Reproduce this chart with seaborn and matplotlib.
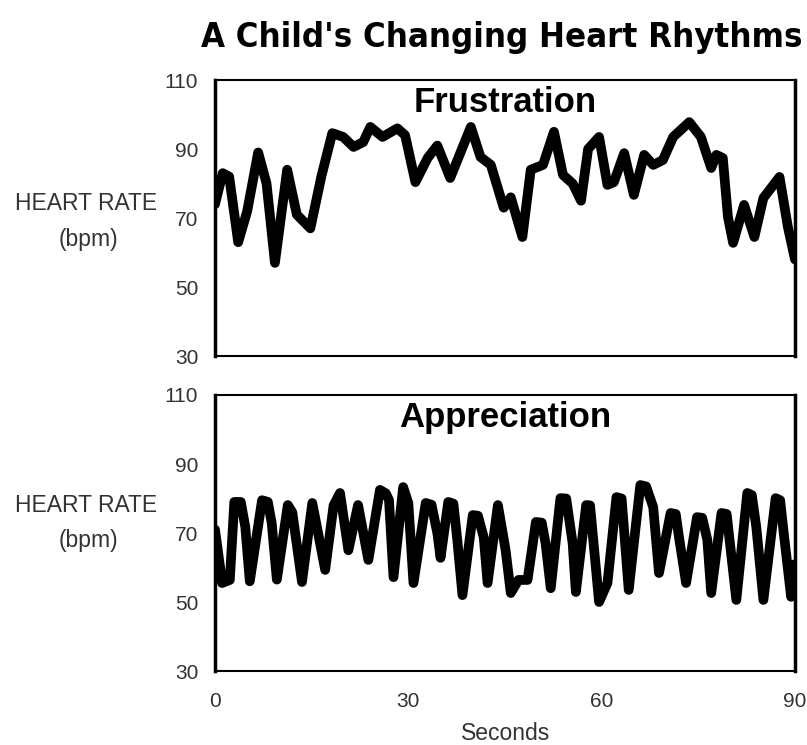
import matplotlib
matplotlib.use("Agg")
import matplotlib.pyplot as plt
from matplotlib import font_manager
import seaborn as sns
import pandas as pd

# Frustration trace (seconds, bpm)
frus_t = [0, 1.2, 2.2, 3.6, 5.0, 6.7, 8.0, 9.3, 11.2, 12.7, 14.8, 16.5, 18.2,
          19.9, 21.5, 23.0, 24.1, 26.0, 28.3, 29.5, 31.1, 33.0, 34.5, 36.5,
          39.7, 41.2, 42.8, 44.8, 45.9, 47.7, 49.0, 50.9, 52.6, 54.0, 55.5,
          56.8, 57.9, 59.6, 60.9, 61.9, 63.5, 65.0, 66.6, 68.0, 69.5, 71.1,
          73.6, 75.4, 77.0, 77.8, 78.8, 79.6, 80.4, 82.1, 83.7, 85.1, 87.6,
          88.9, 90.0]
frus_bpm = [74, 83, 82, 63, 72, 89, 80, 57, 84, 71, 67, 82, 94.6,
            93.5, 90.6, 92, 96.4, 93.5, 96, 94, 80.4, 87.4, 91, 81.6,
            96.4, 87.7, 85.4, 73, 76, 64.5, 84, 85.4, 95, 82.5, 80,
            75, 90, 93.5, 79.6, 80.4, 88.8, 76.7, 88.3, 85.4, 86.8, 93.5,
            97.8, 93.5, 84.5, 88.3, 87.4, 70.3, 62.8, 73.8, 64.5, 75.8, 81.9,
            67.4, 58]

# Appreciation trace (seconds, bpm)
appr_t = [0, 0.8, 1.1, 2.3, 3.0, 4.0, 4.7, 5.4, 7.3, 8.2, 8.8, 9.6, 11.3,
          12.0, 13.5, 15.1, 17.1, 18.4, 19.4, 20.7, 22.2, 23.8, 25.6, 26.5,
          27.0, 27.7, 29.2, 30.0, 30.8, 32.7, 33.6, 34.5, 35.0, 36.2, 37.0,
          37.6, 38.4, 40.0, 40.8, 41.7, 42.3, 43.9, 45.1, 45.9, 47.1, 48.5,
          49.8, 50.7, 51.3, 52.1, 53.6, 54.5, 55.5, 56.0, 57.6, 58.2, 58.8,
          59.6, 60.9, 62.3, 63.1, 64.2, 66.0, 66.9, 68.0, 68.9, 70.7, 71.5,
          72.0, 73.1, 74.8, 75.6, 76.4, 77.0, 78.6, 79.4, 80.9, 82.6, 83.3,
          84.0, 85.1, 87.0, 87.7, 88.2, 89.4, 90.0]
appr_bpm = [71, 60, 55.5, 56.4, 79, 79, 71.8, 56, 79.5, 79, 72.9, 56.5, 78.1,
            76, 55.8, 78.7, 59.3, 78, 81.6, 65, 78.1, 62.2, 82.5, 81.5,
            79.6, 57.2, 83.3, 78.7, 55.5, 78.7, 78.2, 70, 62.8, 79, 78.5,
            68, 52, 75.2, 75, 68.8, 55.5, 78.1, 65, 52.6, 56.4, 56.4,
            73.2, 73, 67, 54, 80.1, 80, 67, 52.9, 78.1, 78, 66,
            50, 55.5, 80.4, 80, 53.5, 83.9, 83.5, 77.5, 58.4, 75.8, 75.5,
            68.8, 55.5, 74.6, 74.4, 68, 52.6, 75.8, 75.5, 50.6, 81.6, 81,
            71.7, 50.6, 80.1, 79.5, 70.9, 51.5, 61]

panel_titles = ["Frustration", "Appreciation"]
y_ticks = [30, 50, 70, 90, 110]
x_ticks = [0, 30, 60, 90]

sns.set_style("white")


def find_condensed(bold):
    for f in font_manager.fontManager.ttflist:
        tag = (f.name + " " + f.fname).lower()
        if ("condensed" in tag or "narrow" in tag) and f.style == "normal":
            w = f.weight if isinstance(f.weight, int) else 400
            if (w >= 600) == bold:
                return f
    return None


cond_bold = find_condensed(True)

plt.rcParams["font.family"] = ["Liberation Sans", "DejaVu Sans"]

fig = plt.figure(figsize=(8.07, 7.45), dpi=100)
ax_top = fig.add_axes([0.2664, 0.5221, 0.7187, 0.3705])
ax_bot = fig.add_axes([0.2664, 0.0993, 0.7187, 0.3705])

frames = [pd.DataFrame({"t": frus_t, "bpm": frus_bpm}),
          pd.DataFrame({"t": appr_t, "bpm": appr_bpm})]

for ax, df, name in zip([ax_top, ax_bot], frames, panel_titles):
    sns.lineplot(data=df, x="t", y="bpm", ax=ax, color="black", lw=7,
                 solid_joinstyle="round", solid_capstyle="round", sort=False)
    ax.set_xlim(0, 90)
    ax.set_ylim(30, 110)
    ax.set_yticks(y_ticks)
    ax.set_yticklabels([str(v) for v in y_ticks])
    ax.set_xticks(x_ticks)
    ax.set_xlabel("")
    ax.set_ylabel("")
    ax.tick_params(axis="both", direction="out", length=10, width=1.5,
                   labelsize=15, colors="black", labelcolor="#333333", pad=2)
    ax.tick_params(axis="x", pad=5)
    for side in ["top", "bottom"]:
        ax.spines[side].set_linewidth(1.5)
    for side in ["left", "right"]:
        ax.spines[side].set_linewidth(2.5)
    for sp in ax.spines.values():
        sp.set_color("black")
        sp.set_visible(True)
    ax.text(0.5, 0.92, name, transform=ax.transAxes, ha="center", va="center",
            fontsize=25, fontweight="bold", color="black")

ax_top.set_xticklabels([])
ax_bot.set_xticklabels([str(v) for v in x_ticks])

for yl, yb in [(0.7275, 0.678), (0.322, 0.275)]:
    fig.text(0.107, yl, "HEART RATE", ha="center", va="center", fontsize=16.5,
             color="#333333")
    fig.text(0.109, yb, "(bpm)", ha="center", va="center", fontsize=16.5,
             color="#333333")

fig.text(0.626, 0.016, "Seconds", ha="center", va="center", fontsize=16.5,
         color="#333333")

title = "A Child's Changing Heart Rhythms"
if cond_bold is not None:
    fig.text(0.622, 0.949, title, ha="center", va="center", color="black",
             fontproperties=font_manager.FontProperties(fname=cond_bold.fname, size=24.8))
else:
    fig.text(0.622, 0.949, title, ha="center", va="center", fontsize=25,
             fontweight="bold", color="black")

fig.savefig("out.png", dpi=100, facecolor="white")
